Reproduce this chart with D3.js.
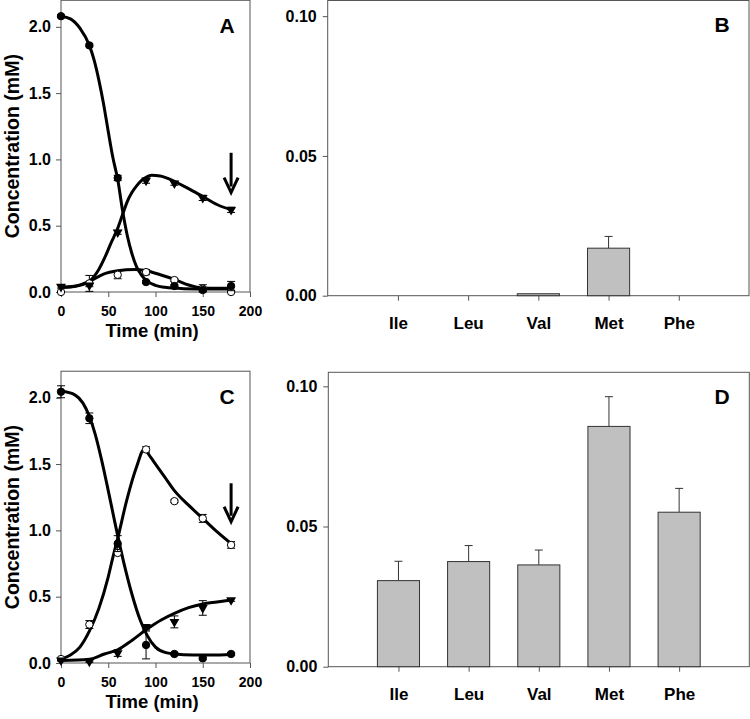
<!DOCTYPE html>
<html>
<head>
<meta charset="utf-8">
<script src="https://cdn.jsdelivr.net/npm/d3@7"></script>
<style>
  html, body { margin: 0; padding: 0; background: #fff; }
  svg { display: block; font-family: "Liberation Sans", Arial, sans-serif; font-weight: bold; }
</style>
</head>
<body>
<svg id="chart" width="750" height="719"></svg>
<script>
// ---------------- DATA ----------------
const timePoints = [0, 30, 60, 90, 120, 150, 180];
const xTicks = [0, 50, 100, 150, 200];
const yTicksTime = [0, 0.5, 1.0, 1.5, 2.0];
const yTicksBar = [0, 0.05, 0.10];
const aminoAcids = ["Ile", "Leu", "Val", "Met", "Phe"];

// Panel A measured points
const aFilled = [2.08, 1.86, 0.86, 0.075, 0.045, 0.015, 0.045];
const aFilledErr = [0.01, 0.01, 0.02, 0.01, 0.01, 0.01, 0.035];
const aTri = [0.04, 0.05, 0.45, 0.84, 0.82, 0.71, 0.62];
const aTriErr = [0.01, 0.01, 0.015, 0.02, 0.015, 0.02, 0.02];
const aOpen = [0.0, 0.065, 0.13, 0.15, 0.09, 0.025, 0.0];
const aOpenErr = [0.005, 0.06, 0.03, 0.02, 0.01, 0.03, 0.005];

// Panel A fitted curves
const aFilledCurveT = [0, 10, 20, 30, 35, 40, 45, 50, 55, 60, 65, 70, 75, 80, 85, 90, 100, 110, 130, 155, 180];
const aFilledCurveV = [2.08, 2.06, 1.99, 1.86, 1.75, 1.60, 1.42, 1.21, 1.01, 0.85, 0.62, 0.43, 0.29, 0.19, 0.13, 0.09, 0.05, 0.035, 0.025, 0.022, 0.022];
const aTriCurveT = [0, 10, 20, 30, 40, 47, 53, 60, 65, 70, 75, 80, 85, 90, 96, 105, 110, 120, 135, 150, 165, 180];
const aTriCurveV = [0.035, 0.038, 0.05, 0.08, 0.17, 0.27, 0.37, 0.48, 0.58, 0.68, 0.75, 0.80, 0.84, 0.865, 0.88, 0.875, 0.865, 0.835, 0.78, 0.72, 0.66, 0.62];
const aOpenCurveT = [0, 15, 30, 45, 60, 78, 90, 105, 120, 135, 150, 165, 180];
const aOpenCurveV = [0.035, 0.045, 0.08, 0.135, 0.16, 0.17, 0.16, 0.13, 0.095, 0.053, 0.03, 0.028, 0.028];

// Panel C measured points
const cFilled = [2.045, 1.845, 0.90, 0.136, 0.068, 0.035, 0.068];
const cFilledErr = [0.045, 0.04, 0.06, 0.105, 0.01, 0.01, 0.01];
const cTri = [0.02, 0.01, 0.075, 0.27, 0.31, 0.415, 0.475];
const cTriErr = [0.005, 0.005, 0.025, 0.02, 0.045, 0.055, 0.01];
const cOpen = [0.03, 0.29, 0.83, 1.61, 1.22, 1.09, 0.89];
const cOpenErr = [0.01, 0.03, 0.02, 0.02, 0.01, 0.03, 0.025];

// Panel C fitted curves
const cFilledCurveT = [0, 15, 30, 36, 43, 50, 57, 60, 66, 75, 84, 91, 100, 110, 120, 140, 160, 180];
const cFilledCurveV = [2.05, 2.02, 1.86, 1.73, 1.53, 1.30, 1.06, 0.96, 0.77, 0.52, 0.32, 0.21, 0.12, 0.08, 0.068, 0.06, 0.06, 0.065];
const cOpenCurveT = [0, 10, 20, 30, 40, 50, 55, 60, 70, 80, 88, 95, 100, 110, 120, 135, 150, 165, 180];
const cOpenCurveV = [0.03, 0.06, 0.12, 0.24, 0.41, 0.65, 0.80, 0.94, 1.24, 1.48, 1.61, 1.55, 1.50, 1.40, 1.30, 1.19, 1.09, 0.99, 0.90];
const cTriCurveT = [0, 30, 46, 60, 75, 90, 106, 120, 135, 150, 165, 180];
const cTriCurveV = [0.018, 0.028, 0.068, 0.10, 0.17, 0.25, 0.324, 0.374, 0.417, 0.445, 0.46, 0.475];

// Panel B / D bars
const bValues = [0, 0, 0.0007, 0.017, 0];
const bErrors = [0, 0, 0, 0.0042, 0];
const dValues = [0.0307, 0.0375, 0.0363, 0.0857, 0.0551];
const dErrors = [0.0069, 0.0057, 0.0053, 0.0106, 0.0085];

// arrow annotations (time, from value, to value)
const arrowA = [180, 1.05, 0.75];
const arrowC = [180, 1.355, 1.065];

// ---------------- DRAW ----------------
const svg = d3.select("#chart");
svg.append("rect").attr("width", 750).attr("height", 719).attr("fill", "#fff");
const frameColor = "#555";

function zip(ts, vs) { return ts.map((t, i) => ({t, v: vs[i]})); }

function timePanel(cfg) {
  const {left, right, top, bottom, letter, series, curves, arrow} = cfg;
  const x = d3.scaleLinear().domain([0, 200]).range([left, right]);
  const y = d3.scaleLinear().domain([0, 2.2]).range([bottom, top]);
  const g = svg.append("g");

  // frame
  g.append("rect").attr("x", left).attr("y", top).attr("width", right - left).attr("height", bottom - top)
    .attr("fill", "none").attr("stroke", frameColor).attr("stroke-width", 1);

  // axes
  const xa = g.append("g").attr("transform", `translate(0,${bottom})`)
    .call(d3.axisBottom(x).tickValues(xTicks).tickSize(5).tickPadding(9).tickFormat(d3.format("d")));
  xa.select(".domain").remove();
  xa.selectAll("line").attr("stroke", frameColor);
  xa.selectAll("text").attr("font-size", 14).attr("font-weight", "bold").attr("fill", "#000")
    .attr("font-family", "Liberation Sans, Arial, sans-serif");
  const ya = g.append("g").attr("transform", `translate(${left},0)`)
    .call(d3.axisLeft(y).tickValues(yTicksTime).tickSize(5).tickPadding(5).tickFormat(d3.format(".1f")));
  ya.select(".domain").remove();
  ya.selectAll("line").attr("stroke", frameColor);
  ya.selectAll("text").attr("font-size", 16).attr("font-weight", "bold").attr("fill", "#000")
    .attr("font-family", "Liberation Sans, Arial, sans-serif");

  // titles
  g.append("text").attr("x", 152).attr("y", bottom + 45).attr("text-anchor", "middle")
    .attr("font-size", 18.5).text("Time (min)");
  g.append("text").attr("transform", `translate(12,${(top + bottom) / 2}) rotate(-90)`)
    .attr("text-anchor", "middle").attr("dy", "0.35em").attr("font-size", 19.5).text("Concentration (mM)");
  g.append("text").attr("x", 227).attr("y", top + 25).attr("text-anchor", "middle").attr("dy", "0.35em")
    .attr("font-size", 21).text(letter);

  // curves
  const line = d3.line().x(d => x(d.t)).y(d => y(d.v)).curve(d3.curveMonotoneX);
  curves.forEach(c => {
    g.append("path").datum(zip(c.t, c.v)).attr("d", line)
      .attr("fill", "none").attr("stroke", "#000").attr("stroke-width", 3).attr("stroke-linejoin", "round");
  });

  // error bars + markers
  series.forEach(s => {
    const data = timePoints.map((t, i) => ({t, v: s.v[i], e: s.e[i]}));
    const eb = g.append("g").attr("stroke", "#000").attr("stroke-width", 1);
    data.forEach(d => {
      const cx = x(d.t);
      eb.append("line").attr("x1", cx).attr("x2", cx).attr("y1", y(d.v - d.e)).attr("y2", y(d.v + d.e));
      eb.append("line").attr("x1", cx - 4).attr("x2", cx + 4).attr("y1", y(d.v + d.e)).attr("y2", y(d.v + d.e));
      eb.append("line").attr("x1", cx - 4).attr("x2", cx + 4).attr("y1", y(Math.max(0, d.v - d.e))).attr("y2", y(Math.max(0, d.v - d.e)));
    });
    if (s.type === "tri") {
      g.selectAll(null).data(data).join("path")
        .attr("d", d3.symbol(d3.symbolTriangle, 42))
        .attr("transform", d => `translate(${x(d.t)},${y(d.v)}) rotate(180)`)
        .attr("fill", "#000");
    } else {
      g.selectAll(null).data(data).join("circle")
        .attr("cx", d => x(d.t)).attr("cy", d => y(d.v)).attr("r", 3.7)
        .attr("fill", s.type === "filled" ? "#000" : "#fff")
        .attr("stroke", "#000").attr("stroke-width", 1);
    }
  });

  // arrow
  const ax = x(arrow[0]), ay1 = y(arrow[1]), ay2 = y(arrow[2]);
  g.append("line").attr("x1", ax).attr("x2", ax).attr("y1", ay1).attr("y2", ay2 - 6)
    .attr("stroke", "#000").attr("stroke-width", 3);
  g.append("path").attr("d", `M${ax - 7},${ay2 - 15} L${ax},${ay2} L${ax + 7},${ay2 - 15}`)
    .attr("fill", "none").attr("stroke", "#000").attr("stroke-width", 3).attr("stroke-linejoin", "miter");
}

function barPanel(cfg) {
  const {left, right, top, bottom, yMax, letter, values, errors} = cfg;
  const x = d3.scalePoint().domain(aminoAcids).range([left, right]).padding(1);
  const y = d3.scaleLinear().domain([0, yMax]).range([bottom, top]);
  const bw = x.step() * 0.6;
  const g = svg.append("g");

  g.append("rect").attr("x", left).attr("y", top).attr("width", right - left).attr("height", bottom - top)
    .attr("fill", "none").attr("stroke", frameColor).attr("stroke-width", 1);

  const xa = g.append("g").attr("transform", `translate(0,${bottom})`)
    .call(d3.axisBottom(x).tickSize(5).tickPadding(16));
  xa.select(".domain").remove();
  xa.selectAll("line").attr("stroke", frameColor);
  xa.selectAll("text").attr("font-size", 17).attr("font-weight", "bold").attr("fill", "#000")
    .attr("font-family", "Liberation Sans, Arial, sans-serif");
  const ya = g.append("g").attr("transform", `translate(${left},0)`)
    .call(d3.axisLeft(y).tickValues(yTicksBar).tickSize(5).tickPadding(6).tickFormat(d3.format(".2f")));
  ya.select(".domain").remove();
  ya.selectAll("line").attr("stroke", frameColor);
  ya.selectAll("text").attr("font-size", 16).attr("font-weight", "bold").attr("fill", "#000")
    .attr("font-family", "Liberation Sans, Arial, sans-serif");

  g.append("text").attr("x", 722).attr("y", top + 24).attr("text-anchor", "middle").attr("dy", "0.35em")
    .attr("font-size", 21).text(letter);

  const data = aminoAcids.map((a, i) => ({a, v: values[i], e: errors[i]})).filter(d => d.v > 0);
  // error bars (upper only)
  data.filter(d => d.e > 0).forEach(d => {
    const cx = x(d.a);
    g.append("line").attr("x1", cx).attr("x2", cx).attr("y1", y(d.v)).attr("y2", y(d.v + d.e))
      .attr("stroke", "#333").attr("stroke-width", 1);
    g.append("line").attr("x1", cx - 4).attr("x2", cx + 4).attr("y1", y(d.v + d.e)).attr("y2", y(d.v + d.e))
      .attr("stroke", "#333").attr("stroke-width", 1);
  });
  g.selectAll(null).data(data).join("rect")
    .attr("x", d => x(d.a) - bw / 2).attr("width", bw)
    .attr("y", d => y(d.v)).attr("height", d => y(0) - y(d.v))
    .attr("fill", "#c0c0c0").attr("stroke", "#333").attr("stroke-width", 1);
}

timePanel({
  left: 61, right: 250, top: 0.3, bottom: 292, letter: "A", arrow: arrowA,
  series: [
    {type: "open", v: aOpen, e: aOpenErr},
    {type: "tri", v: aTri, e: aTriErr},
    {type: "filled", v: aFilled, e: aFilledErr}
  ],
  curves: [
    {t: aFilledCurveT, v: aFilledCurveV},
    {t: aTriCurveT, v: aTriCurveV},
    {t: aOpenCurveT, v: aOpenCurveV}
  ]
});
timePanel({
  left: 61, right: 250, top: 371.2, bottom: 663, letter: "C", arrow: arrowC,
  series: [
    {type: "open", v: cOpen, e: cOpenErr},
    {type: "tri", v: cTri, e: cTriErr},
    {type: "filled", v: cFilled, e: cFilledErr}
  ],
  curves: [
    {t: cFilledCurveT, v: cFilledCurveV},
    {t: cOpenCurveT, v: cOpenCurveV},
    {t: cTriCurveT, v: cTriCurveV}
  ]
});
barPanel({left: 327.7, right: 749, top: 0.5, bottom: 295.7, yMax: 0.1056, letter: "B", values: bValues, errors: bErrors});
barPanel({left: 328.3, right: 749.3, top: 372.3, bottom: 666.7, yMax: 0.105, letter: "D", values: dValues, errors: dErrors});
</script>
</body>
</html>
